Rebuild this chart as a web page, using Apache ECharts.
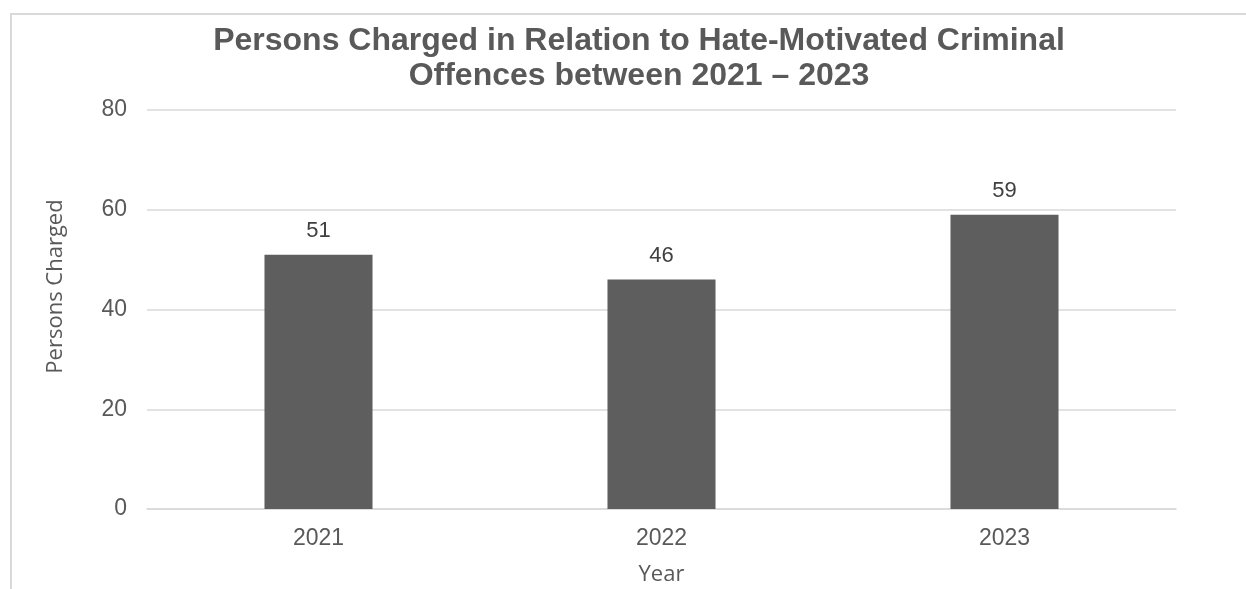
<!DOCTYPE html>
<html>
<head>
<meta charset="utf-8">
<script src="https://cdn.jsdelivr.net/npm/echarts@6/dist/echarts.min.js"></script>
<style>
html, body { margin: 0; padding: 0; background: #fff; }
#container { width: 1246px; height: 589px; }
</style>
</head>
<body>
<div id="container"></div>
<script>
var years = ['2021', '2022', '2023'];
var charged = [51, 46, 59];
var yTicks = [0, 20, 40, 60, 80];

var myChart = echarts.init(document.getElementById('container'));

var option = {
    animation: false,
    title: {
        text: 'Persons Charged in Relation to Hate-Motivated Criminal\nOffences between 2021 \u2013 2023',
        left: 634,
        top: 19,
        textAlign: 'center',
        textStyle: {
            fontFamily: 'Liberation Sans',
            fontWeight: 'bold',
            fontSize: 32,
            lineHeight: 35,
            color: '#595959'
        }
    },
    graphic: [{
        type: 'rect',
        shape: { x: 11, y: 14, width: 1300, height: 700 },
        style: { fill: 'none', stroke: '#d9d9d9', lineWidth: 2 },
        silent: true
    }],
    grid: {
        left: 147,
        right: 70,
        top: 110,
        bottom: 80,
        outerBoundsMode: 'none'
    },
    xAxis: {
        type: 'category',
        data: years,
        name: 'Year',
        nameLocation: 'middle',
        nameGap: 55,
        nameTextStyle: { fontFamily: 'Open Sans', fontSize: 22, color: '#595959' },
        axisLine: { lineStyle: { color: '#d9d9d9', width: 1.5 } },
        axisTick: { show: false },
        axisLabel: { fontFamily: 'Liberation Sans', fontSize: 23, color: '#595959', margin: 18 }
    },
    yAxis: {
        type: 'value',
        min: 0,
        max: 80,
        interval: 20,
        name: 'Persons Charged',
        nameLocation: 'middle',
        nameGap: 80,
        nameTextStyle: { fontFamily: 'Open Sans', fontSize: 22, color: '#595959', padding: [0, 0, 0, 46] },
        axisLine: { show: false },
        axisTick: { show: false },
        axisLabel: {
            fontFamily: 'Liberation Sans', fontSize: 23, color: '#595959', margin: 20,
            formatter: function (v) { return yTicks.indexOf(v) >= 0 ? String(v) : ''; }
        },
        splitLine: { lineStyle: { color: '#d9d9d9', width: 1.5 } }
    },
    series: [{
        type: 'bar',
        data: charged,
        barWidth: '31.5%',
        itemStyle: { color: '#5e5e5e' },
        label: {
            show: true,
            position: 'top',
            distance: 13,
            fontFamily: 'Liberation Sans',
            fontSize: 22,
            color: '#404040'
        }
    }]
};

myChart.setOption(option, true);
</script>
</body>
</html>
